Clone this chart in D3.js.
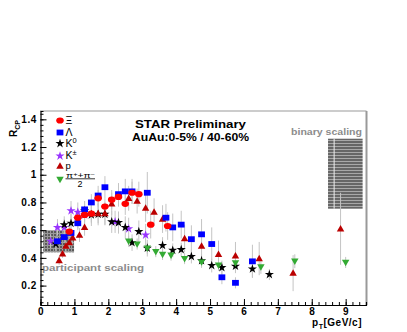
<!DOCTYPE html>
<html lang="en">
<head>
<meta charset="utf-8">
<title>RCP STAR Preliminary</title>
<script src="https://d3js.org/d3.v7.min.js"></script>
<style>
	body { margin: 0; background: #fff; }
	text { font-family: 'Liberation Sans', Arial, sans-serif; }
	.tick-label { font-size: 10px; font-weight: bold; letter-spacing: 0.6px; fill: #000; }
</style>
</head>
<body>
<svg width="407" height="332"></svg>
<script>
// ---- data ----
var xiPt  = [0.85,1.1,1.3,1.5,1.7,1.9,2.1,2.3,2.5,2.7,2.9,3.25,3.75];
var xiR   = [0.59,0.69,0.71,0.72,0.83,0.77,0.82,0.84,0.79,0.87,0.86,0.64,0.63];
var xiErr = [0.04,0.05,0.05,0.06,0.06,0.06,0.07,0.07,0.08,0.08,0.09,0.1,0.1];

var lamPt  = [0.5,0.7,0.9,1.1,1.3,1.5,1.7,1.9,2.3,2.5,2.7,3.15,3.7,3.9,4.15,4.45,4.75,5.05,5.35,5.75,6.25];
var lamR   = [0.52,0.55,0.58,0.65,0.75,0.8,0.85,0.91,0.86,0.88,0.88,0.87,0.69,0.62,0.64,0.535,0.57,0.5,0.26,0.22,0.375];
var lamErr = [0.03,0.04,0.05,0.05,0.06,0.06,0.07,0.08,0.08,0.09,0.09,0.15,0.1,0.1,0.1,0.1,0.11,0.12,0.05,0.04,0.12];

var k0Pt  = [0.45,0.7,0.9,1.1,1.3,1.5,1.7,1.9,2.1,2.3,2.5,2.7,2.9,3.15,3.6,3.9,4.15,4.45,4.75,5.05,5.35,5.75,6.25,6.75];
var k0R   = [0.5,0.64,0.65,0.68,0.74,0.71,0.715,0.715,0.66,0.655,0.62,0.51,0.59,0.47,0.49,0.455,0.46,0.41,0.38,0.345,0.33,0.34,0.32,0.28];
var k0Err = [0.05,0.06,0.07,0.07,0.07,0.08,0.08,0.08,0.08,0.08,0.08,0.06,0.08,0.06,0.06,0.05,0.05,0.05,0.05,0.05,0.05,0.05,0.06,0.04];

var kchPt  = [0.3,0.5,0.7,0.9,1.1,1.3,2.2,2.6,3.1];
var kchR   = [0.52,0.62,0.62,0.74,0.73,0.71,0.66,0.61,0.565];
var kchErr = [0.05,0.06,0.06,0.07,0.07,0.08,0.08,0.08,0.08];

var pPt  = [0.55,0.65,0.75,0.85,0.95,1.15,1.3,1.5,1.7,1.9,2.1,2.6,2.85,3.1,3.35,3.6,4.25,4.75,5.25,5.75,6.45,7.45,8.85];
var pR   = [0.38,0.43,0.485,0.51,0.545,0.565,0.62,0.72,0.72,0.72,0.79,0.83,0.81,0.76,0.73,0.68,0.54,0.485,0.425,0.415,0.395,0.29,0.61];
var pErr = [0.03,0.03,0.04,0.04,0.05,0.05,0.06,0.07,0.07,0.08,0.08,0.09,0.09,0.1,0.1,0.1,0.1,0.1,0.1,0.1,0.12,0.13,0.26];

var piPt  = [2.6,2.85,3.15,3.4,3.6,3.85,4.25,4.75,5.25,5.75,6.5,7.5,9.0];
var piR   = [0.52,0.5,0.47,0.445,0.425,0.42,0.395,0.37,0.347,0.364,0.335,0.376,0.367];
var piErr = [0.04,0.04,0.04,0.04,0.04,0.04,0.04,0.04,0.04,0.05,0.05,0.05,0.04];

var xTicks = [0,1,2,3,4,5,6,7,8,9];
var yTicks = [0.2,0.4,0.6,0.8,1,1.2,1.4];

// scaling bands: [ptLow, ptHigh, Rlow, Rhigh]
var participantBand = [0.08, 0.99, 0.44, 0.6];
var binaryBand = [8.48, 9.5, 0.755, 1.26];

var svg = d3.select("svg");
var x = d3.scaleLinear().domain([0, 9.6]).range([40.5, 366]);
var y = d3.scaleLinear().domain([0.06, 1.46]).range([305, 111]);

// patterns for the scaling boxes
var defs = svg.append("defs");
var hatch = defs.append("pattern").attr("id", "cross").attr("patternUnits", "userSpaceOnUse")
	.attr("width", 3).attr("height", 3);
hatch.append("rect").attr("width", 3).attr("height", 3).attr("fill", "#9a9a9a");
hatch.append("rect").attr("width", 2).attr("height", 2).attr("fill", "#5a5a5a");
var lines = defs.append("pattern").attr("id", "hlines").attr("patternUnits", "userSpaceOnUse")
	.attr("width", 4).attr("height", 3);
lines.append("rect").attr("width", 4).attr("height", 3).attr("fill", "#a8a8a8");
lines.append("rect").attr("width", 4).attr("height", 2).attr("fill", "#666");

svg.append("rect")
	.attr("x", x(participantBand[0])).attr("width", x(participantBand[1]) - x(participantBand[0]))
	.attr("y", y(participantBand[3])).attr("height", y(participantBand[2]) - y(participantBand[3]))
	.attr("fill", "url(#cross)");
svg.append("rect")
	.attr("x", x(binaryBand[0])).attr("width", x(binaryBand[1]) - x(binaryBand[0]))
	.attr("y", y(binaryBand[3])).attr("height", y(binaryBand[2]) - y(binaryBand[3]))
	.attr("fill", "url(#hlines)");
svg.append("line")
	.attr("x1", x(8.66)).attr("x2", x(8.66))
	.attr("y1", y(binaryBand[3])).attr("y2", y(binaryBand[2]))
	.attr("stroke", "#eee").attr("stroke-width", 1);

svg.append("text").attr("x", 42).attr("y", 271)
	.attr("font-size", 8.5).attr("font-weight", "bold").attr("fill", "#8c8c8c")
	.attr("textLength", 102).attr("lengthAdjust", "spacingAndGlyphs").text("participant scaling");
svg.append("text").attr("x", 291).attr("y", 135)
	.attr("font-size", 8.5).attr("font-weight", "bold").attr("fill", "#8c8c8c")
	.attr("textLength", 71).attr("lengthAdjust", "spacingAndGlyphs").text("binary scaling");

// frame
svg.append("line").attr("x1", 40).attr("x2", 366.5).attr("y1", 111).attr("y2", 111)
	.attr("stroke", "#999").attr("stroke-width", 1);
svg.append("line").attr("x1", 366.5).attr("x2", 366.5).attr("y1", 111).attr("y2", 305)
	.attr("stroke", "#999").attr("stroke-width", 2);

// axes with inward ticks
var gx = svg.append("g").attr("transform", "translate(0,305)");
gx.call(d3.axisBottom(x).tickValues(d3.range(0, 9.61, 0.2)).tickSize(-3).tickFormat(""));
var gxMaj = svg.append("g").attr("transform", "translate(0,305)");
gxMaj.call(d3.axisBottom(x).tickValues(xTicks).tickSize(-6).tickPadding(3).tickFormat(d3.format("d")));
gxMaj.select(".domain").remove();
gxMaj.selectAll("text").attr("class", "tick-label").attr("font-size", null).attr("font-family", null);

var gy = svg.append("g").attr("transform", "translate(40.5,0)");
gy.call(d3.axisLeft(y).tickValues(d3.range(0.08, 1.45, 0.04)).tickSize(-3).tickFormat(""));
var gyMaj = svg.append("g").attr("transform", "translate(40.5,0)");
gyMaj.call(d3.axisLeft(y).tickValues(yTicks).tickSize(-6).tickPadding(4)
	.tickFormat(function(d) { return d === 1 ? "1" : d3.format(".1f")(d); }));
gyMaj.select(".domain").remove();
gyMaj.selectAll("text").attr("class", "tick-label").attr("font-size", null).attr("font-family", null)
	.attr("x", -3.5);
svg.selectAll(".domain").attr("stroke-width", 1.2);

// axis titles
var xt = svg.append("text").attr("x", 362).attr("y", 326).attr("text-anchor", "end")
	.attr("font-size", 10).attr("font-weight", "bold").attr("letter-spacing", 0.5);
xt.append("tspan").text("p");
xt.append("tspan").attr("font-size", 7).attr("dy", 2.5).text("T");
xt.append("tspan").attr("dy", -2.5).text("[GeV/c]");

var yt = svg.append("text").attr("transform", "translate(17,137) rotate(-90)")
	.attr("font-size", 10).attr("font-weight", "bold");
yt.append("tspan").text("R");
yt.append("tspan").attr("font-size", 7).attr("dy", 2.5).text("CP");

// header
svg.append("text").attr("x", 135).attr("y", 128).attr("font-size", 10).attr("font-weight", "bold")
	.attr("textLength", 111).attr("lengthAdjust", "spacingAndGlyphs").text("STAR Preliminary");
svg.append("text").attr("x", 132).attr("y", 141).attr("font-size", 10).attr("font-weight", "bold")
	.attr("textLength", 117).attr("lengthAdjust", "spacingAndGlyphs").text("AuAu:0-5% / 40-60%");

// markers
var markerFns = {
	circle: function(g, col) { g.append("ellipse").attr("rx", 3.8).attr("ry", 3.1).attr("fill", col); },
	square: function(g, col) { g.append("rect").attr("x", -3.4).attr("y", -2.9).attr("width", 6.8).attr("height", 5.8).attr("fill", col); },
	star: function(g, col) { g.append("path").attr("d", d3.symbol(d3.symbolStar, 26)()).attr("fill", col); },
	up: function(g, col) { g.append("path").attr("d", d3.symbol(d3.symbolTriangle, 24)()).attr("transform", "translate(0,0.5)").attr("fill", col); },
	down: function(g, col) { g.append("path").attr("d", d3.symbol(d3.symbolTriangle, 24)()).attr("transform", "translate(0,-0.5) rotate(180)").attr("fill", col); }
};

var series = [
	{ pt: kchPt, r: kchR, e: kchErr, shape: "star", color: "#9933ff" },
	{ pt: k0Pt, r: k0R, e: k0Err, shape: "star", color: "#000" },
	{ pt: piPt, r: piR, e: piErr, shape: "down", color: "#33aa33" },
	{ pt: pPt, r: pR, e: pErr, shape: "up", color: "#bb0000" },
	{ pt: lamPt, r: lamR, e: lamErr, shape: "square", color: "#0000ff" },
	{ pt: xiPt, r: xiR, e: xiErr, shape: "circle", color: "#ff0000" }
];

// error bars first, then markers on top
series.forEach(function(s) {
	svg.append("g").selectAll("line").data(s.pt).enter().append("line")
		.attr("x1", function(d) { return x(d); }).attr("x2", function(d) { return x(d); })
		.attr("y1", function(d, i) { return y(s.r[i] - s.e[i]); })
		.attr("y2", function(d, i) { return y(s.r[i] + s.e[i]); })
		.attr("stroke", "#c4c4c4").attr("stroke-width", 1);
});
series.forEach(function(s) {
	svg.append("g").selectAll("g").data(s.pt).enter().append("g")
		.attr("transform", function(d, i) { return "translate(" + x(d) + "," + y(s.r[i]) + ")"; })
		.each(function() { markerFns[s.shape](d3.select(this), s.color); });
});

// legend
var legend = [
	{ shape: "circle", color: "#ff0000", label: "\u039E", y: 120.5, fs: 10.5 },
	{ shape: "square", color: "#0000ff", label: "\u039B", y: 132.5, fs: 10.5 },
	{ shape: "star", color: "#000", label: "K", sup: "0", y: 143.5, fs: 10.5 },
	{ shape: "star", color: "#9933ff", label: "K", sup: "\u00B1", y: 156, fs: 10.5 },
	{ shape: "up", color: "#bb0000", label: "p", y: 166, fs: 9.5 }
];
legend.forEach(function(l) {
	var g = svg.append("g").attr("transform", "translate(60," + l.y + ")");
	markerFns[l.shape](g, l.color);
	var t = svg.append("text").attr("x", 65.5).attr("y", l.y + 3).attr("font-size", l.fs);
	t.append("tspan").text(l.label);
	if (l.sup) t.append("tspan").attr("font-size", 7.5).attr("dy", -4).text(l.sup);
});
var gpi = svg.append("g").attr("transform", "translate(60,179.5)");
markerFns.down(gpi, "#33aa33");
var num = svg.append("text").attr("x", 66).attr("y", 177.5).attr("font-size", 7)
	.attr("textLength", 29).attr("lengthAdjust", "spacingAndGlyphs");
num.append("tspan").text("\u03C0");
num.append("tspan").attr("font-size", 5).attr("dy", -2).text("+");
num.append("tspan").attr("dy", 2).text("+\u03C0");
num.append("tspan").attr("font-size", 5).attr("dy", -2).text("\u2212");
svg.append("line").attr("x1", 65.5).attr("x2", 95).attr("y1", 178.8).attr("y2", 178.8).attr("stroke", "#000").attr("stroke-width", 0.8);
svg.append("text").attr("x", 80).attr("y", 187).attr("text-anchor", "middle").attr("font-size", 9).text("2");
</script>
</body>
</html>
